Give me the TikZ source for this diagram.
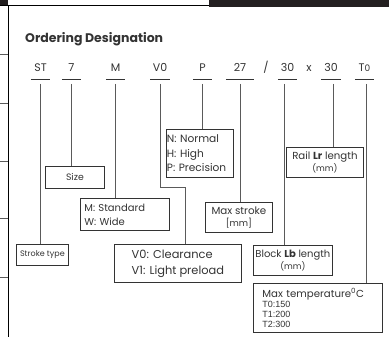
\documentclass[tikz,border=0pt]{standalone}
\usepackage{fontspec}
\setmainfont{Poppins}
\newfontfamily\narrowfont{Liberation Sans}
\definecolor{ink}{HTML}{333333}
\definecolor{wire}{HTML}{5A5A5A}
\definecolor{bar}{HTML}{231F20}
\begin{document}
\begin{tikzpicture}[x=1pt,y=-1pt,
  code/.style={font=\fontsize{11}{12}\selectfont, text=ink, inner xsep=0pt, inner ysep=7pt,
    text depth=0pt, minimum width=19pt, anchor=south},
  uline/.style={draw=ink, line width=0.8pt},
  conn/.style={draw=wire, line width=0.8pt},
  box/.style={draw=ink, line width=0.8pt, anchor=north west, inner sep=0pt, text=ink,
    font=\fontsize{10}{12}\selectfont, align=center},
  lbox/.style={box, align=left},
  edge/.style={draw=wire, line width=0.6pt}]
\useasboundingbox (0,0) rectangle (389,337);
% page frame
\fill[bar] (0,0) rectangle (8,5.5);
\draw[black, line width=0.8pt] (0,5.5) -- (209,5.5);
\fill[bar] (209,0) rectangle (389,7);
\draw[black, line width=0.9pt] (8,5) -- (8,337);
\foreach \yy in {54,103,161,218,277} \draw[edge] (0,\yy) -- (8,\yy);
% heading
\node[anchor=base west, inner sep=0pt, text=ink, font=\fontsize{12.5}{14}\selectfont\bfseries] (title) at (25,43) {Ordering Designation};
% code
\node[code] (st) at (40.5,79) {ST};
\node[code] (n7) at (71.5,79) {7};
\node[code] (m) at (115.5,79) {M};
\node[code] (v0) at (160,79) {V0};
\node[code] (p) at (202.5,79) {P};
\node[code, minimum width=28pt] (s27) at (240,79) {27};
\node[code, minimum width=0pt] (sl) at (266,79) {/};
\node[code] (l30) at (287.5,79) {30};
\node[code, minimum width=0pt] (x) at (309,79) {x};
\node[code] (r30) at (331,79) {30};
\node[code] (t0) at (364.5,79) {T{\fontsize{9}{10}\selectfont 0}};
\foreach \n in {st,n7,m,v0,p,s27,l30,r30,t0} \draw[uline] (\n.south west) -- (\n.south east);
% boxes
\node[box, minimum width=52pt, minimum height=21pt, font=\fontsize{8}{8}\selectfont] (stroke) at (16,244) {Stroke type};
\node[box, minimum width=59pt, minimum height=22pt, font=\fontsize{9.3}{11}\selectfont] (size) at (45,166) {Size};
\node[lbox, minimum height=32pt, text width=81pt, inner xsep=4pt, font=\fontsize{10}{14}\selectfont] (mbox) at (80,198) {M: Standard\\W: Wide};
\node[lbox, minimum height=48pt, text width=66pt, inner xsep=0.5pt, font=\fontsize{10.6}{14.5}\selectfont] (nbox) at (166,129) {N: Normal\\H: High\\P: Precision};
\node[lbox, minimum height=38pt, minimum width=127pt, font=\fontsize{11.4}{16}\selectfont] (vbox) at (114,244) {V0: Clearance\\V1: Light preload};
\node[box, minimum width=67pt, minimum height=30pt, font=\fontsize{10.3}{11.5}\selectfont] (maxs) at (205,202) {Max stroke\\{\fontsize{9}{10}\selectfont[mm]}};
\node[box, minimum width=77pt, minimum height=30pt, font=\fontsize{10.2}{12}\selectfont] (rail) at (286,147) {Rail \textbf{Lr} length\\{\fontsize{8.5}{9}\selectfont(mm)}};
\node[box, minimum width=79pt, minimum height=30pt, font=\fontsize{10}{12}\selectfont] (block) at (253,245) {Block \textbf{Lb} length\\{\fontsize{8.5}{9}\selectfont(mm)}};
\node[lbox, minimum height=49pt, text width=111pt, inner xsep=9pt, font=\fontsize{10.2}{10}\selectfont] (temp) at (253,283) {Max temperature\textsuperscript{0}C\\{\narrowfont\fontsize{9}{10}\selectfont T0:150}\\{\narrowfont\fontsize{9}{10}\selectfont T1:200}\\{\narrowfont\fontsize{9}{10}\selectfont T2:300}};
% connectors
\draw[conn] ([yshift=-5pt]st.south) -- (st.south |- stroke.north);
\draw[conn] ([yshift=-5pt]n7.south) -- (n7.south |- size.north);
\draw[conn] ([yshift=-5pt]m.south) -- (m.south |- mbox.north);
\coordinate (vbend) at (185,187);
\draw[conn] ([yshift=-5pt]v0.south) |- (vbend) -- (vbend |- vbox.north);
\draw[conn] ([yshift=-5pt]p.south) -- (p.south |- nbox.north);
\draw[conn] ([yshift=-5pt]s27.south) -- (s27.south |- maxs.north);
\draw[conn] ([xshift=-3.5pt,yshift=-5pt]l30.south) -- ([xshift=-3.5pt]l30.south |- block.north);
\draw[conn] ([xshift=2pt,yshift=-5pt]r30.south) -- ([xshift=2pt]r30.south |- rail.north);
\draw[conn] ([xshift=1.5pt,yshift=-5pt]t0.south) -- ([xshift=1.5pt]t0.south |- temp.north);
\end{tikzpicture}
\end{document}
